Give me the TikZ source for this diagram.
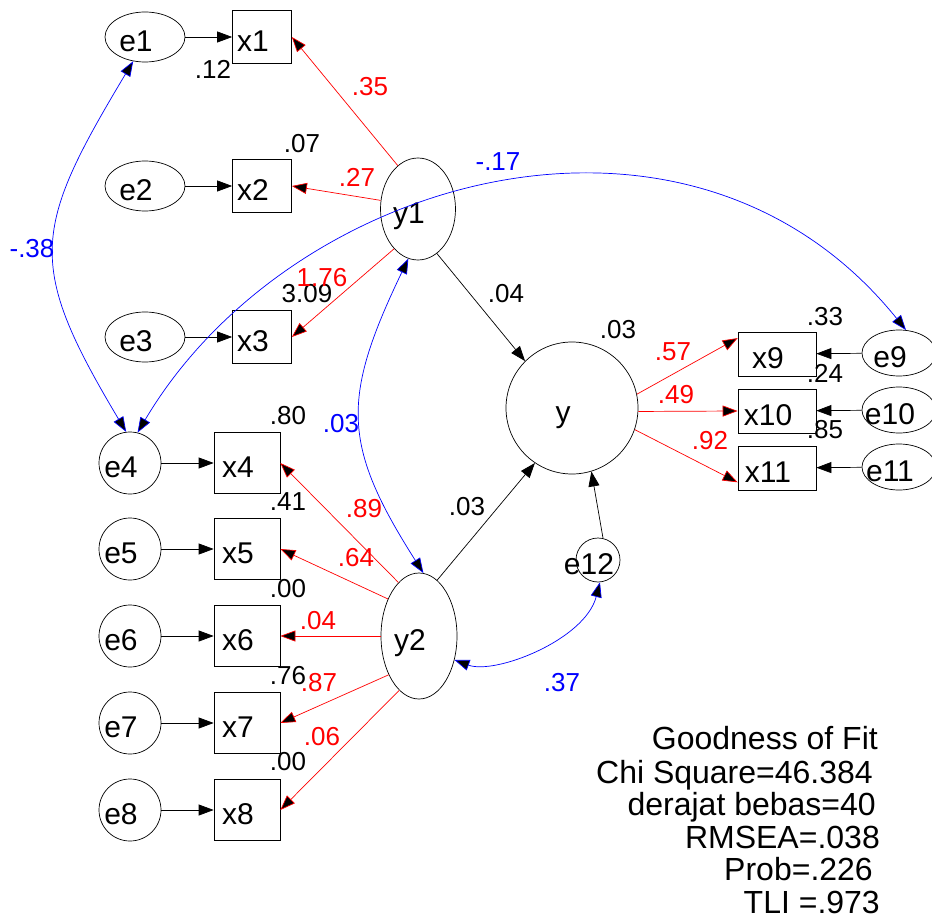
\documentclass[tikz,border=0pt]{standalone}
\usepackage{fontspec}
\setmainfont{Liberation Sans}
\usetikzlibrary{arrows.meta}
\usetikzlibrary{calc}
\usetikzlibrary{shapes.geometric}
\newcommand{\nm}[1]{\makebox[0pt]{\kern-18pt #1}}
\newcommand{\tip}{Triangle[length=15pt,width=11pt,fill=black]}
\tikzstyle{varnode}=[
  draw,
  line width=0.7pt,
  inner sep=0pt,
  text height=29pt,
  text depth=0pt,
  font=\fontsize{30}{36}\selectfont
]
\tikzstyle{obs}=[varnode, rectangle]
\tikzstyle{lat}=[varnode, ellipse]
\tikzstyle{res}=[varnode, circle]
\tikzstyle{est}=[font=\fontsize{26}{30}\selectfont, inner sep=0pt]
\tikzstyle{gof}=[font=\fontsize{32}{36}\selectfont, inner sep=0pt, anchor=base east]
\tikzstyle{reg}=[-{\tip}, line width=0.7pt]
\tikzstyle{load}=[reg, red]
\tikzstyle{cov}=[{\tip}-{\tip}, blue, line width=0.7pt]
\newcommand{\leftitem}[4]{{
  \node[#1] (e#2) at (#3) {\nm{e#2}};
  \node[obs, minimum width=#4] (x#2) at ($(#3) + (117, 0)$) {\nm{x#2}};
  \draw[reg] (e#2) -- (x#2);
}}

\begin{document}
\begin{tikzpicture}[x=1pt, y=-1pt]
  \useasboundingbox (0,0) rectangle (932,920);

  % latent variables
  \node[lat, minimum width=75pt, minimum height=102pt] (y1) at (418,209) {\nm{y1}};
  \node[lat, minimum width=76pt, minimum height=126pt] (y2) at (419,636) {\nm{y2}};
  \node[res, minimum size=132pt] (y) at (572,408) {\nm{y}};
  \node[res, minimum size=44pt] (e12) at (598,560) {\nm{e12}};

  % indicators of y1
  \leftitem{lat, minimum width=80pt, minimum height=50pt}{1}{145,37}{59pt, minimum height=53pt}
  \leftitem{lat, minimum width=80pt, minimum height=50pt}{2}{145,186}{59pt, minimum height=53pt}
  \leftitem{lat, minimum width=80pt, minimum height=50pt}{3}{145,337}{59pt, minimum height=53pt}

  % indicators of y2
  \leftitem{res, minimum size=62pt}{4}{130,463}{66pt, minimum height=61pt}
  \leftitem{res, minimum size=62pt}{5}{130,549}{66pt, minimum height=61pt}
  \leftitem{res, minimum size=62pt}{6}{130,636}{66pt, minimum height=61pt}
  \leftitem{res, minimum size=62pt}{7}{130,723}{66pt, minimum height=61pt}
  \leftitem{res, minimum size=62pt}{8}{130,810}{66pt, minimum height=61pt}

  % indicators of y
  \node[obs, minimum width=78pt, minimum height=44pt] (x9)  at (777,354) {\nm{x9}};
  \node[obs, minimum width=78pt, minimum height=44pt] (x10) at (777,411) {\nm{x10}};
  \node[obs, minimum width=78pt, minimum height=44pt] (x11) at (777,468) {\nm{x11}};
  \node[lat, minimum width=74pt, minimum height=46pt] (e9)  at (899,353) {\nm{e9}};
  \node[lat, minimum width=74pt, minimum height=46pt] (e10) at (899,410) {\nm{e10}};
  \node[lat, minimum width=74pt, minimum height=46pt] (e11) at (899,467) {\nm{e11}};
  \draw[reg] (e9) -- (x9);
  \draw[reg] (e10) -- (x10);
  \draw[reg] (e11) -- (x11);

  % loadings
  \draw[load] (y1.115) -- (x1.east);
  \draw[load] (y1.167) -- (x2.east);
  \draw[load] (y1.239) -- (x3.east);
  \draw[load] (y2.111) -- (x4.east);
  \draw[load] (y2.130) -- (x5.east);
  \draw[load] (y2.180) -- (x6.east);
  \draw[load] (y2.232) -- (x7.east);
  \draw[load] (y2.250) -- (x8.east);
  \draw[load] (y.12)  -- (x9.158);
  \draw[load] (y.357) -- (x10.west);
  \draw[load] (y.341) -- (x11.200);

  % structural paths
  \draw[reg] (y1.293) -- (y.135);
  \draw[reg] (y2.72) -- (y.236);
  \draw[reg] (e12.77) -- (y.287);

  % covariances
  \draw[cov] (e1.244) .. controls (32,230) and (26,264) .. (e4.97);
  \draw[cov] (e4.76) .. controls (290,175) and (690,62) .. (e9.73);
  \draw[cov] (y1.259) .. controls (341,399) and (342,445) .. (y2.86);
  \draw[cov] (y2.326) .. controls (495,675) and (585,640) .. (e12.275);

  % estimates
  \node[est] (r1)  at (213,69)  {.12};
  \node[est] (r2)  at (302,144) {.07};
  \node[est] (r3)  at (307,294) {3.09};
  \node[est] (r4)  at (288,416) {.80};
  \node[est] (r5)  at (288,502) {.41};
  \node[est] (r6)  at (288,589) {.00};
  \node[est] (r7)  at (288,676) {.76};
  \node[est] (r8)  at (288,762) {.00};
  \node[est] (r9)  at (825,317) {.33};
  \node[est] (r10) at (825,373) {.24};
  \node[est] (r11) at (825,430) {.85};
  \node[est] (ry)  at (618,330) {.03};
  \node[est] (p1)  at (506,294) {.04};
  \node[est] (p2)  at (467,507) {.03};

  \node[est, red] (b1)  at (370,87)  {.35};
  \node[est, red] (b2)  at (357,177) {.27};
  \node[est, red] (b3)  at (322,278) {1.76};
  \node[est, red] (b4)  at (364,509) {.89};
  \node[est, red] (b5)  at (356,558) {.64};
  \node[est, red] (b6)  at (318,621) {.04};
  \node[est, red] (b7)  at (319,683) {.87};
  \node[est, red] (b8)  at (322,737) {.06};
  \node[est, red] (b9)  at (673,352) {.57};
  \node[est, red] (b10) at (676,395) {.49};
  \node[est, red] (b11) at (710,441) {.92};

  \node[est, blue] (c1) at (32,249)  {-.38};
  \node[est, blue] (c2) at (498,162) {-.17};
  \node[est, blue] (c3) at (341,424) {.03};
  \node[est, blue] (c4) at (562,683) {.37};

  % fit summary
  \node[gof] (gof1) at (878,749) {Goodness of Fit};
  \node[gof] (gof2) at (873,783) {Chi Square=46.384};
  \node[gof] (gof3) at (876,815) {derajat bebas=40};
  \node[gof] (gof4) at (880,848) {RMSEA=.038};
  \node[gof] (gof5) at (873,880) {Prob=.226};
  \node[gof] (gof6) at (880,913) {TLI =.973};
\end{tikzpicture}
\end{document}
